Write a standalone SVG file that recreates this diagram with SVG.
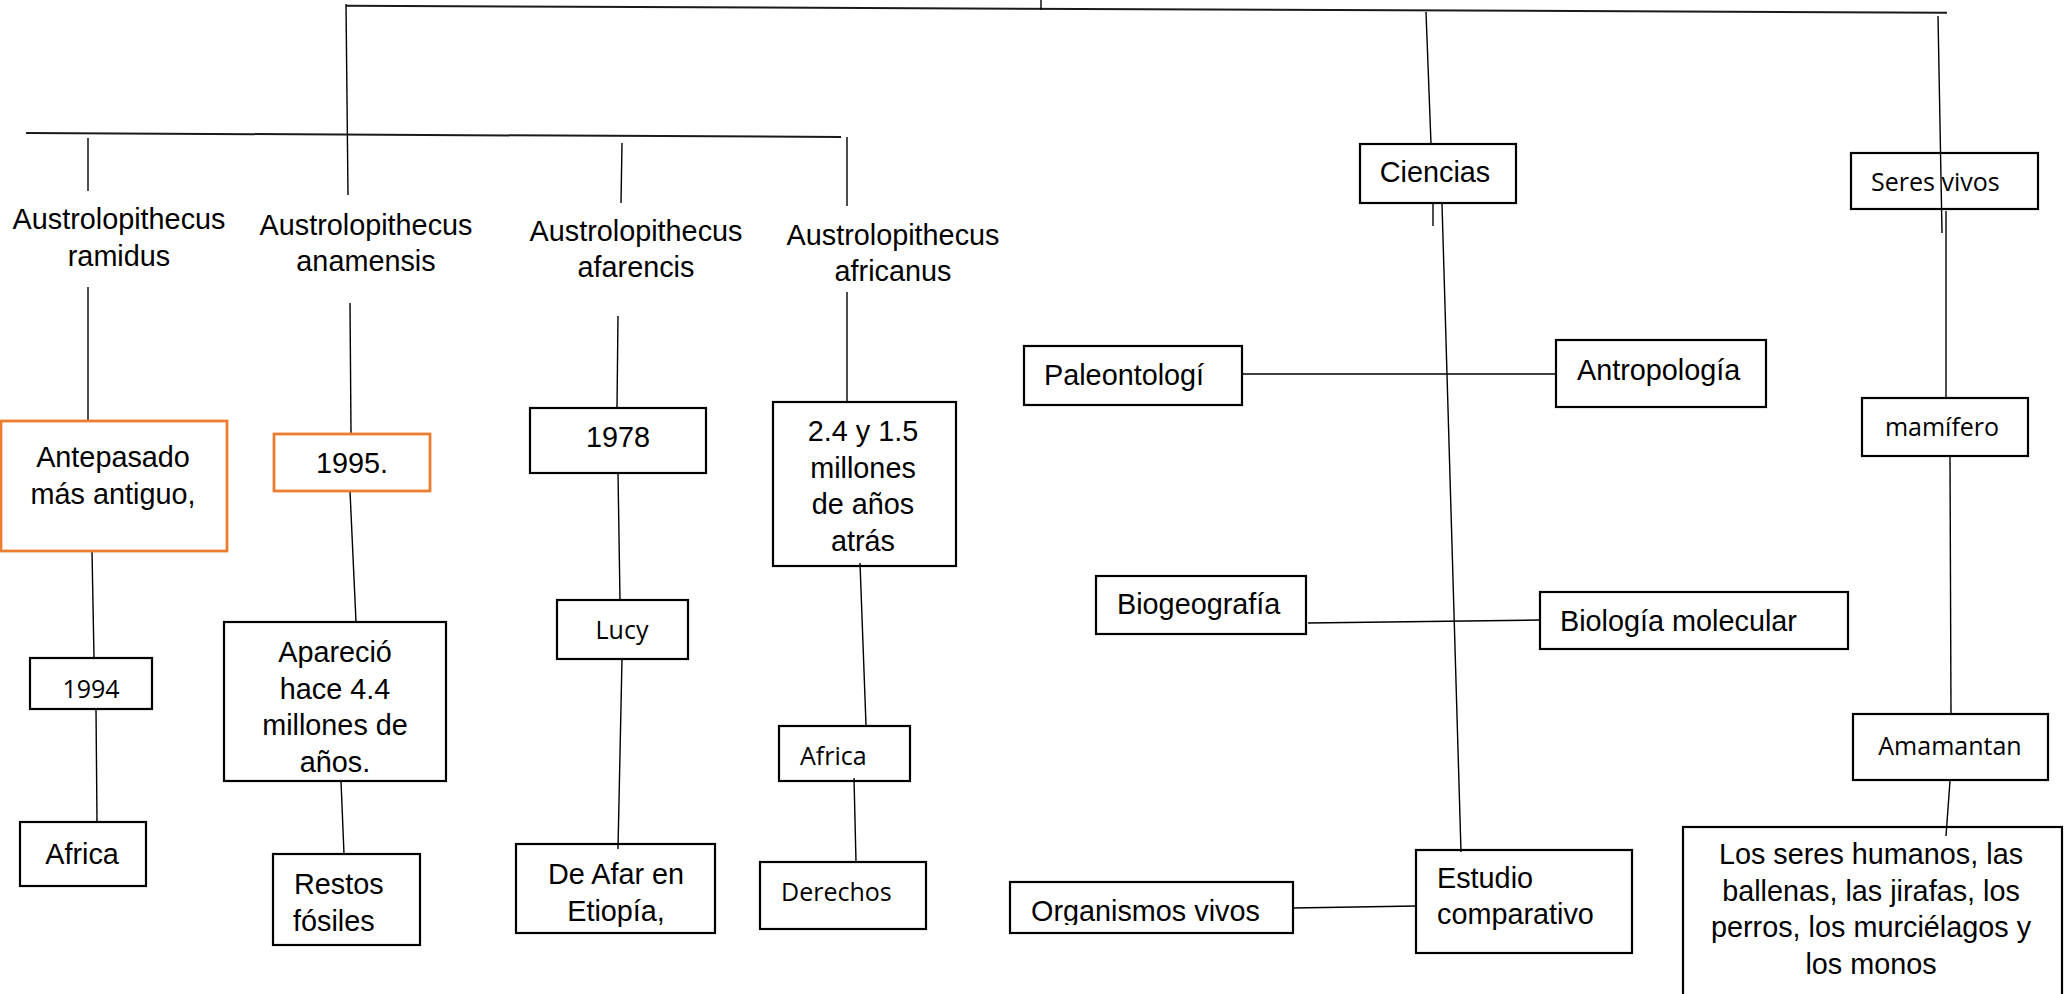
<svg xmlns="http://www.w3.org/2000/svg" width="2067" height="994" viewBox="0 0 2067 994">
<style>
.bg{fill:#fff}
.ln{stroke:#000;stroke-width:1.4;fill:none;stroke-linecap:butt}
.hl{stroke:#1a1a1a;stroke-width:2;fill:none}
.box{fill:none;stroke:#000;stroke-width:2.2}
.obox{fill:none;stroke:#ED7D31;stroke-width:2.8}
.t{font-family:"Liberation Sans",Arial,sans-serif;font-size:28.8px;fill:#000}
.c{font-family:"Open Sans","Liberation Sans",sans-serif;font-size:25px;fill:#000}
.m{text-anchor:middle}
</style>
<defs>
<clipPath id="clipOrg"><rect x="1010" y="882" width="283" height="43"/></clipPath>
</defs>
<rect class="bg" x="0" y="0" width="2067" height="994"/>
<g id="connectors">
<line class="hl" x1="346" y1="5.7" x2="1947" y2="12.7"/>
<line class="ln" x1="1041" y1="0" x2="1041" y2="10"/>
<line class="ln" x1="346" y1="4" x2="348" y2="195"/>
<line class="hl" x1="26" y1="133" x2="841" y2="137"/>
<line class="ln" x1="88" y1="138" x2="88" y2="191"/>
<line class="ln" x1="622" y1="143" x2="621" y2="203"/>
<line class="ln" x1="847" y1="137" x2="847" y2="206"/>
<line class="ln" x1="88" y1="287" x2="88" y2="421"/>
<line class="ln" x1="350" y1="303" x2="351" y2="433"/>
<line class="ln" x1="618" y1="316" x2="617" y2="408"/>
<line class="ln" x1="847" y1="292" x2="847" y2="401"/>
<line class="ln" x1="92" y1="551" x2="94" y2="658"/>
<line class="ln" x1="96" y1="709" x2="97" y2="822"/>
<line class="ln" x1="350" y1="491" x2="356" y2="622"/>
<line class="ln" x1="341" y1="781" x2="344" y2="854"/>
<line class="ln" x1="618" y1="473" x2="620" y2="600"/>
<line class="ln" x1="622" y1="659" x2="618" y2="849"/>
<line class="ln" x1="860" y1="563" x2="866" y2="725"/>
<line class="ln" x1="854" y1="778" x2="856" y2="862"/>
<line class="ln" x1="1426" y1="12" x2="1431" y2="144"/>
<line class="ln" x1="1433" y1="203" x2="1433" y2="226"/>
<line class="ln" x1="1442" y1="204" x2="1461" y2="852"/>
<line class="ln" x1="1242" y1="374" x2="1556" y2="374"/>
<line class="ln" x1="1308" y1="623" x2="1540" y2="620"/>
<line class="ln" x1="1293" y1="908" x2="1416" y2="906"/>
<line class="ln" x1="1938" y1="16" x2="1942" y2="233"/>
<line class="ln" x1="1946" y1="211" x2="1946" y2="398"/>
<line class="ln" x1="1950" y1="456" x2="1951" y2="714"/>
<line class="ln" x1="1950" y1="781" x2="1946" y2="836"/>
</g>
<g id="n-ramidus"><text class="t m" x="119" y="229">Austrolopithecus</text><text class="t m" x="119" y="266">ramidus</text></g>
<g id="n-anamensis"><text class="t m" x="366" y="235">Austrolopithecus</text><text class="t m" x="366" y="271">anamensis</text></g>
<g id="n-afarencis"><text class="t m" x="636" y="241">Austrolopithecus</text><text class="t m" x="636" y="277">afarencis</text></g>
<g id="n-africanus"><text class="t m" x="893" y="245">Austrolopithecus</text><text class="t m" x="893" y="281">africanus</text></g>
<g id="n-antepasado"><rect class="obox" x="1" y="421" width="226" height="130"/><text class="t m" x="113" y="467">Antepasado</text><text class="t m" x="113" y="503.5">más antiguo,</text></g>
<g id="n-1995"><rect class="obox" x="274" y="434" width="156" height="57"/><text class="t m" x="352" y="473">1995.</text></g>
<g id="n-1978"><rect class="box" x="530" y="408" width="176" height="65"/><text class="t m" x="618" y="447">1978</text></g>
<g id="n-24"><rect class="box" x="773" y="402" width="183" height="164"/><text class="t m" x="863" y="441">2.4 y 1.5</text><text class="t m" x="863" y="477.5">millones</text><text class="t m" x="863" y="514">de años</text><text class="t m" x="863" y="550.5">atrás</text></g>
<g id="n-1994"><rect class="box" x="30" y="658" width="122" height="51"/><text class="c m" x="91" y="698">1994</text></g>
<g id="n-africa1"><rect class="box" x="20" y="822" width="126" height="64"/><text class="t m" x="82" y="864">Africa</text></g>
<g id="n-aparecio"><rect class="box" x="224" y="622" width="222" height="159"/><text class="t m" x="335" y="662">Apareció</text><text class="t m" x="335" y="698.5">hace 4.4</text><text class="t m" x="335" y="735">millones de</text><text class="t m" x="335" y="771.5">años.</text></g>
<g id="n-restos"><rect class="box" x="273" y="854" width="147" height="91"/><text class="t" x="294" y="894">Restos</text><text class="t" x="293" y="930.5">fósiles</text></g>
<g id="n-lucy"><rect class="box" x="557" y="600" width="131" height="59"/><text class="c m" x="622" y="639">Lucy</text></g>
<g id="n-afar"><rect class="box" x="516" y="844" width="199" height="89"/><text class="t m" x="616" y="884">De Afar en</text><text class="t m" x="616" y="920.5">Etiopía,</text></g>
<g id="n-africa2"><rect class="box" x="779" y="726" width="131" height="55"/><text class="c" x="800" y="765">Africa</text></g>
<g id="n-derechos"><rect class="box" x="760" y="862" width="166" height="67"/><text class="c" x="781" y="901">Derechos</text></g>
<g id="n-ciencias"><rect class="box" x="1360" y="144" width="156" height="59"/><text class="t m" x="1435" y="182">Ciencias</text></g>
<g id="n-paleo"><rect class="box" x="1024" y="346" width="218" height="59"/><text class="t" x="1044" y="385">Paleontologí</text></g>
<g id="n-antro"><rect class="box" x="1556" y="340" width="210" height="67"/><text class="t" x="1577" y="380">Antropología</text></g>
<g id="n-biogeo"><rect class="box" x="1096" y="576" width="210" height="58"/><text class="t" x="1117" y="614">Biogeografía</text></g>
<g id="n-biomol"><rect class="box" x="1540" y="592" width="308" height="57"/><text class="t" x="1560" y="631">Biología molecular</text></g>
<g id="n-organismos"><rect class="box" x="1010" y="882" width="283" height="51"/><text class="t" x="1031" y="921" clip-path="url(#clipOrg)">Organismos vivos</text></g>
<g id="n-estudio"><rect class="box" x="1416" y="850" width="216" height="103"/><text class="t" x="1437" y="888">Estudio</text><text class="t" x="1437" y="924">comparativo</text></g>
<g id="n-seres"><rect class="box" x="1851" y="153" width="187" height="56"/><text class="c" x="1871" y="191">Seres vivos</text></g>
<g id="n-mamifero"><rect class="box" x="1862" y="398" width="166" height="58"/><text class="c m" x="1942" y="436">mamífero</text></g>
<g id="n-amamantan"><rect class="box" x="1853" y="714" width="195" height="66"/><text class="c m" x="1950" y="755">Amamantan</text></g>
<g id="n-losseres"><rect class="box" x="1683" y="827" width="379" height="180"/><text class="t m" x="1871" y="864">Los seres humanos, las</text><text class="t m" x="1871" y="900.5">ballenas, las jirafas, los</text><text class="t m" x="1871" y="937">perros, los murciélagos y</text><text class="t m" x="1871" y="973.5">los monos</text></g>
</svg>
